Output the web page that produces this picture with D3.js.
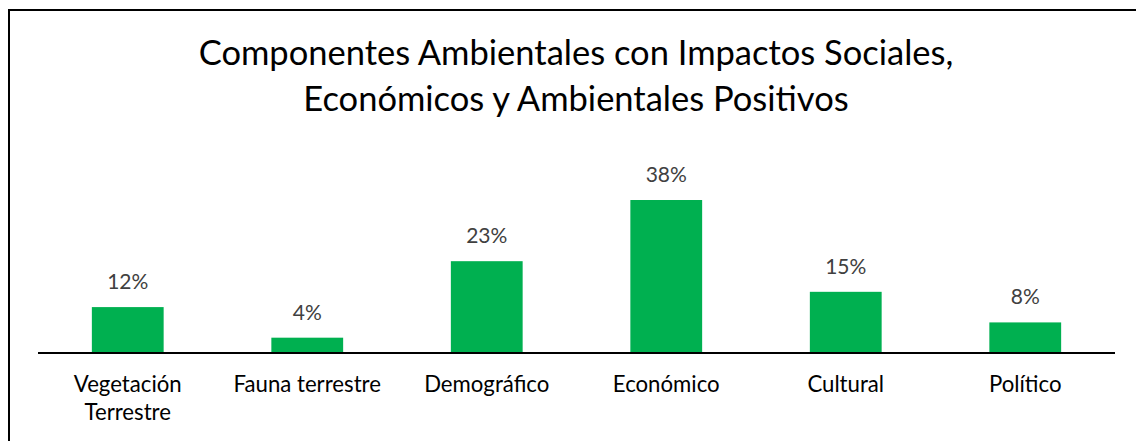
<!DOCTYPE html>
<html>
<head>
<meta charset="utf-8">
<script src="https://cdn.jsdelivr.net/npm/d3@7/dist/d3.min.js"></script>
<style>
  html, body { margin: 0; padding: 0; background: #fff; }
  svg { display: block; }
</style>
</head>
<body>
<svg id="chart" width="1136" height="441"></svg>
<script>
const titleLines = ["Componentes Ambientales con Impactos Sociales,", "Económicos y Ambientales Positivos"];
const categories = [["Vegetación", "Terrestre"], ["Fauna terrestre"], ["Demográfico"], ["Económico"], ["Cultural"], ["Político"]];
const values = [11.54, 3.85, 23.08, 38.46, 15.38, 7.69];
const valueLabels = ["12%", "4%", "23%", "38%", "15%", "8%"];

const svg = d3.select("#chart");
const font = "Lato, 'Open Sans', sans-serif";

// chart border (extends beyond viewport on right/bottom)
svg.append("rect")
  .attr("x", 9).attr("y", 10)
  .attr("width", 1200).attr("height", 600)
  .attr("fill", "none").attr("stroke", "#000").attr("stroke-width", 2);

const baseY = 353;
const x = d3.scaleBand()
  .domain(d3.range(categories.length))
  .range([38, 1115])
  .paddingInner(0.6).paddingOuter(0.3);
const y = d3.scaleLinear().domain([0, 45]).range([baseY, baseY - 45 * 3.978]);

// title
const title = svg.append("text")
  .attr("text-anchor", "middle")
  .attr("font-family", font)
  .attr("font-size", 34.5)
  .attr("fill", "#000");
titleLines.forEach((t, i) => {
  title.append("tspan").attr("x", 576).attr("y", 65 + i * 46).text(t);
});

// bars
svg.selectAll("rect.bar").data(values).enter().append("rect")
  .attr("class", "bar")
  .attr("x", (d, i) => x(i))
  .attr("width", x.bandwidth())
  .attr("y", d => y(d))
  .attr("height", d => y(0) - y(d))
  .attr("fill", "#00B050");

// axis
const axis = d3.axisBottom(x).tickSize(0).tickFormat("");
const gAxis = svg.append("g").attr("transform", `translate(0,${baseY})`).call(axis);
gAxis.select(".domain").attr("stroke", "#000").attr("stroke-width", 2).attr("d", `M38,0H1115`);

// value labels
svg.selectAll("text.val").data(values).enter().append("text")
  .attr("class", "val")
  .attr("x", (d, i) => x(i) + x.bandwidth() / 2)
  .attr("y", d => y(d) - 18)
  .attr("text-anchor", "middle")
  .attr("font-family", font)
  .attr("font-size", 21)
  .attr("fill", "#404040")
  .text((d, i) => valueLabels[i]);

// category labels
categories.forEach((lines, i) => {
  const t = svg.append("text")
    .attr("text-anchor", "middle")
    .attr("font-family", font)
    .attr("font-size", 22.2)
    .attr("fill", "#000");
  lines.forEach((l, j) => {
    t.append("tspan").attr("x", x(i) + x.bandwidth() / 2).attr("y", 392 + j * 28).text(l);
  });
});
</script>
</body>
</html>
